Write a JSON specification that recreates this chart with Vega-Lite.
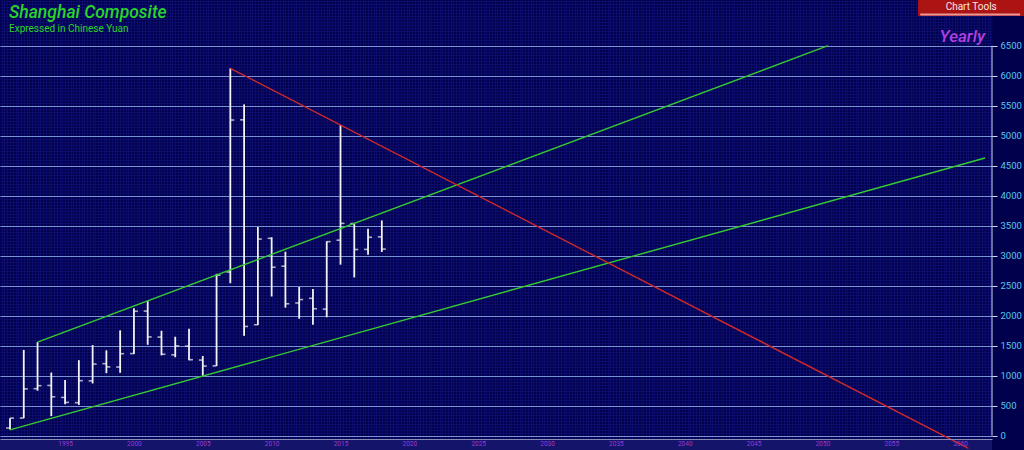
{
  "$schema": "https://vega.github.io/schema/vega-lite/v6.json",
  "autosize": "none",
  "width": 992,
  "height": 439,
  "padding": {"left": 0, "top": 0, "right": 32, "bottom": 11},
  "background": "#00004c",
  "config": {"view": {"stroke": null, "fill": "#00004c"}, "font": "Roboto"},
  "title": {
    "text": "Shanghai Composite",
    "subtitle": "Expressed in Chinese Yuan",
    "anchor": "start",
    "orient": "top",
    "offset": -36,
    "dx": 9,
    "color": "#2ad42a",
    "font": "Roboto",
    "fontSize": 17.5,
    "fontStyle": "italic",
    "fontWeight": 500,
    "subtitleColor": "#2ad42a",
    "subtitleFont": "Roboto",
    "subtitleFontSize": 10,
    "subtitlePadding": 2
  },
  "datasets": {
    "ohlc": [
      {"year": 1991, "open": 127.6, "high": 292.8, "low": 105.0, "close": 292.8},
      {"year": 1992, "open": 293.7, "high": 1429.0, "low": 292.8, "close": 780.4},
      {"year": 1993, "open": 784.1, "high": 1559.0, "low": 750.5, "close": 833.8},
      {"year": 1994, "open": 837.7, "high": 1052.9, "low": 325.9, "close": 647.9},
      {"year": 1995, "open": 637.7, "high": 926.4, "low": 524.4, "close": 555.3},
      {"year": 1996, "open": 550.3, "high": 1258.7, "low": 512.8, "close": 917.0},
      {"year": 1997, "open": 914.1, "high": 1510.2, "low": 870.2, "close": 1194.1},
      {"year": 1998, "open": 1201.0, "high": 1423.0, "low": 1043.0, "close": 1146.7},
      {"year": 1999, "open": 1144.9, "high": 1756.2, "low": 1047.8, "close": 1366.6},
      {"year": 2000, "open": 1368.7, "high": 2125.7, "low": 1361.2, "close": 2073.5},
      {"year": 2001, "open": 2077.1, "high": 2245.4, "low": 1514.9, "close": 1646.0},
      {"year": 2002, "open": 1643.5, "high": 1748.9, "low": 1339.2, "close": 1357.7},
      {"year": 2003, "open": 1347.4, "high": 1649.6, "low": 1307.4, "close": 1497.0},
      {"year": 2004, "open": 1492.7, "high": 1783.0, "low": 1259.4, "close": 1266.5},
      {"year": 2005, "open": 1260.8, "high": 1328.5, "low": 998.2, "close": 1161.1},
      {"year": 2006, "open": 1163.9, "high": 2698.9, "low": 1161.9, "close": 2675.5},
      {"year": 2007, "open": 2728.2, "high": 6124.0, "low": 2541.5, "close": 5261.6},
      {"year": 2008, "open": 5265.0, "high": 5522.8, "low": 1664.9, "close": 1820.8},
      {"year": 2009, "open": 1849.0, "high": 3478.0, "low": 1844.1, "close": 3277.1},
      {"year": 2010, "open": 3289.8, "high": 3306.8, "low": 2319.7, "close": 2808.1},
      {"year": 2011, "open": 2825.3, "high": 3067.5, "low": 2134.0, "close": 2199.4},
      {"year": 2012, "open": 2212.0, "high": 2478.4, "low": 1949.5, "close": 2269.1},
      {"year": 2013, "open": 2289.5, "high": 2444.8, "low": 1849.7, "close": 2116.0},
      {"year": 2014, "open": 2109.4, "high": 3239.4, "low": 1974.4, "close": 3234.7},
      {"year": 2015, "open": 3258.6, "high": 5178.2, "low": 2850.7, "close": 3539.2},
      {"year": 2016, "open": 3536.6, "high": 3538.7, "low": 2638.3, "close": 3103.6},
      {"year": 2017, "open": 3105.3, "high": 3450.5, "low": 3016.5, "close": 3307.2},
      {"year": 2018, "open": 3314.0, "high": 3587.0, "low": 3062.0, "close": 3110.0}
    ],
    "lines": [
      {"line": "upper", "year": 1993, "value": 1559},
      {"line": "upper", "year": 2050.4, "value": 6500},
      {"line": "lower", "year": 1991, "value": 96},
      {"line": "lower", "year": 2061.8, "value": 4628},
      {"line": "red", "year": 2007, "value": 6124},
      {"line": "red", "year": 2060.6, "value": -212}
    ],
    "one": [{}]
  },
  "resolve": {"axis": {"x": "independent", "y": "independent"}},
  "layer": [
    {
      "data": {"name": "ohlc"},
      "mark": {"type": "rule", "opacity": 0},
      "encoding": {
        "x": {"field": "year", "type": "quantitative",
          "scale": {"domain": [1990.274, 2062.31], "nice": false, "zero": false},
          "axis": {"orient": "top", "grid": true, "gridColor": "#0c0c6c", "gridWidth": 1, "tickCount": 330, "labels": false, "ticks": false, "domain": false, "title": null}},
        "y": {"field": "low", "type": "quantitative",
          "scale": {"domain": [-55, 7262], "nice": false, "zero": false},
          "axis": {"orient": "left", "grid": true, "gridColor": "#0c0c6c", "gridWidth": 1, "tickCount": 146, "labels": false, "ticks": false, "domain": false, "title": null}}
      }
    },
    {
      "data": {"name": "one"},
      "mark": {"type": "rect", "color": "#14146a", "clip": false},
      "encoding": {
        "x": {"datum": 1990.274, "type": "quantitative", "axis": null},
        "x2": {"datum": 2062.31},
        "y": {"datum": -55, "type": "quantitative", "axis": null},
        "y2": {"datum": -240}
      }
    },
    {
      "data": {"name": "ohlc"},
      "mark": {"type": "rule", "color": "#f4f4f4", "strokeWidth": 1.8},
      "encoding": {
        "x": {"field": "year", "type": "quantitative",
          "axis": {"orient": "bottom", "zindex": 1, "values": [1990, 1995, 2000, 2005, 2010, 2015, 2020, 2025, 2030, 2035, 2040, 2045, 2050, 2055, 2060], "format": "d", "labelColor": "#9a3ad8", "labelFontSize": 6.5, "labelPadding": 1, "labelFlush": true, "ticks": false, "grid": false, "domain": true, "domainColor": "#8a8ab8", "domainWidth": 1, "title": null}},
        "y": {"field": "low", "type": "quantitative",
          "axis": {"orient": "right", "values": [0, 500, 1000, 1500, 2000, 2500, 3000, 3500, 4000, 4500, 5000, 5500, 6000, 6500], "format": "d", "grid": true, "gridColor": "#7890d6", "gridWidth": 1, "labelColor": "#55c8f0", "labelFontSize": 9.5, "labelPadding": 3, "tickColor": "#c8d8f0", "tickSize": 5, "domain": false, "title": null}},
        "y2": {"field": "high"}
      }
    },
    {
      "data": {"name": "ohlc"},
      "mark": {"type": "tick", "orient": "horizontal", "color": "#f4f4f4", "size": 4, "thickness": 1.6, "xOffset": -2},
      "encoding": {
        "x": {"field": "year", "type": "quantitative", "axis": null},
        "y": {"field": "open", "type": "quantitative", "axis": null}
      }
    },
    {
      "data": {"name": "ohlc"},
      "mark": {"type": "tick", "orient": "horizontal", "color": "#f4f4f4", "size": 4, "thickness": 1.6, "xOffset": 2},
      "encoding": {
        "x": {"field": "year", "type": "quantitative", "axis": null},
        "y": {"field": "close", "type": "quantitative", "axis": null}
      }
    },
    {
      "data": {"name": "lines"},
      "mark": {"type": "line", "strokeWidth": 1.4, "clip": false},
      "encoding": {
        "x": {"field": "year", "type": "quantitative", "axis": null},
        "y": {"field": "value", "type": "quantitative", "axis": null},
        "detail": {"field": "line"},
        "color": {"field": "line", "type": "nominal", "legend": null,
          "scale": {"domain": ["upper", "lower", "red"], "range": ["#35cc30", "#35cc30", "#d02828"]}}
      }
    },
    {
      "data": {"name": "one"},
      "mark": {"type": "rule", "color": "#c8d8f0", "strokeWidth": 1},
      "encoding": {
        "x": {"datum": 2062.31, "type": "quantitative", "axis": null},
        "y": {"datum": 0, "type": "quantitative", "axis": null},
        "y2": {"datum": 6500}
      }
    },
    {
      "data": {"name": "one"},
      "mark": {"type": "text", "text": "Yearly", "color": "#b040e0", "font": "Roboto", "fontSize": 17, "fontStyle": "italic", "fontWeight": 500, "align": "right", "baseline": "middle"},
      "encoding": {
        "x": {"datum": 2061.8, "type": "quantitative", "axis": null},
        "y": {"datum": 6645, "type": "quantitative", "axis": null}
      }
    },
    {
      "data": {"name": "one"},
      "mark": {"type": "rect", "color": "#ac1414", "clip": false},
      "encoding": {
        "x": {"datum": 2056.94, "type": "quantitative", "axis": null},
        "x2": {"datum": 2064.7},
        "y": {"datum": 7300, "type": "quantitative", "axis": null},
        "y2": {"datum": 6995}
      }
    },
    {
      "data": {"name": "one"},
      "mark": {"type": "rule", "color": "#e89a9a", "strokeWidth": 2, "clip": false},
      "encoding": {
        "x": {"datum": 2057.1, "type": "quantitative", "axis": null},
        "x2": {"datum": 2064.35},
        "y": {"datum": 7020, "type": "quantitative", "axis": null}
      }
    },
    {
      "data": {"name": "one"},
      "mark": {"type": "text", "text": "Chart Tools", "color": "#f8e4e4", "font": "Roboto", "fontSize": 10, "align": "center", "baseline": "middle", "clip": false},
      "encoding": {
        "x": {"datum": 2060.8, "type": "quantitative", "axis": null},
        "y": {"datum": 7145, "type": "quantitative", "axis": null}
      }
    }
  ]
}
